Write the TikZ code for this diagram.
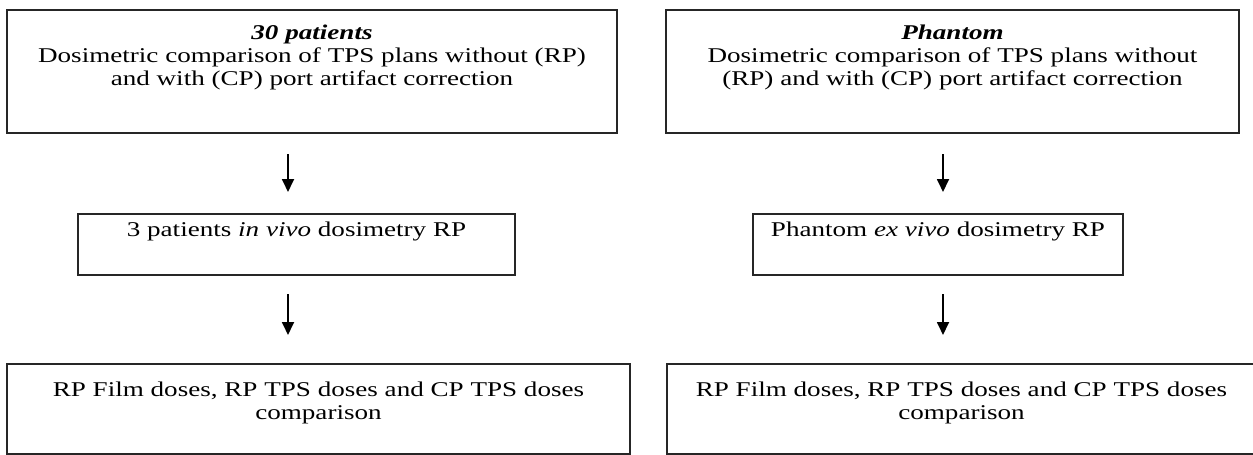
\documentclass[tikz,border=0pt]{standalone}
\usepackage{fontspec}
\setmainfont{Liberation Serif}[FakeStretch=1.29]
\usetikzlibrary{arrows.meta,positioning,fit}
\tikzset{
  dosebox/.style={draw=black!85, line width=1pt, inner sep=0pt},
  dosetxt/.style={align=center, inner sep=0pt, font=\fontsize{10.5}{11.35}\selectfont},
  dosearr/.style={-{Triangle[length=6.5pt,width=6pt]}, line width=0.9pt},
}
\begin{document}
\begin{tikzpicture}[x=0.5pt,y=-0.5pt]
    \useasboundingbox (0,0) rectangle (1253,455);
    \clip (0,0) rectangle (1253,455);
    % patients column
    \node[dosebox, fit={(7,10) (617,133)}] (pat1) {};
    \node[dosebox, fit={(78,214) (515,275)}] (pat2) {};
    \node[dosebox, fit={(7,364) (630,454)}] (pat3) {};
    \node[dosetxt, anchor=base] (pat1t) at ([yshift=-38pt]pat1.north) {\textbf{\textit{30 patients}}\\Dosimetric comparison of TPS plans without (RP)\\and with (CP) port artifact correction};
    \node[dosetxt, anchor=base] (pat2t) at ([yshift=-11.5pt]pat2.north) {3 patients \textit{in vivo} dosimetry RP};
    \node[dosetxt, anchor=base] (pat3t) at ([yshift=-28pt]pat3.north) {RP Film doses, RP TPS doses and CP TPS doses\\comparison};
    % phantom column
    \node[dosebox, fit={(666,10) (1239,133)}] (ph1) {};
    \node[dosebox, fit={(753,214) (1123,275)}] (ph2) {};
    \node[dosebox, fit={(667,364) (1256,454)}] (ph3) {};
    \node[dosetxt, anchor=base] (ph1t) at ([yshift=-38pt]ph1.north) {\textbf{\textit{Phantom}}\\Dosimetric comparison of TPS plans without\\(RP) and with (CP) port artifact correction};
    \node[dosetxt, anchor=base] (ph2t) at ([yshift=-11.5pt]ph2.north) {Phantom \textit{ex vivo} dosimetry RP};
    \node[dosetxt, anchor=base] (ph3t) at ([yshift=-28pt]ph3.north) {RP Film doses, RP TPS doses and CP TPS doses\\comparison};
    % arrows
    \draw[dosearr, shorten <=10pt, shorten >=10.5pt] ([xshift=-4.25pt]pat2.north |- pat1.south) -- ([xshift=-4.25pt]pat2.north);
    \draw[dosearr, shorten <=9pt, shorten >=14pt] ([xshift=-4.25pt]pat2.south) -- ([xshift=-4.25pt]pat2.south |- pat3.north);
    \draw[dosearr, shorten <=10pt, shorten >=10.5pt] ([xshift=2.5pt]ph2.north |- ph1.south) -- ([xshift=2.5pt]ph2.north);
    \draw[dosearr, shorten <=9pt, shorten >=14pt] ([xshift=2.5pt]ph2.south) -- ([xshift=2.5pt]ph2.south |- ph3.north);
\end{tikzpicture}
\end{document}
